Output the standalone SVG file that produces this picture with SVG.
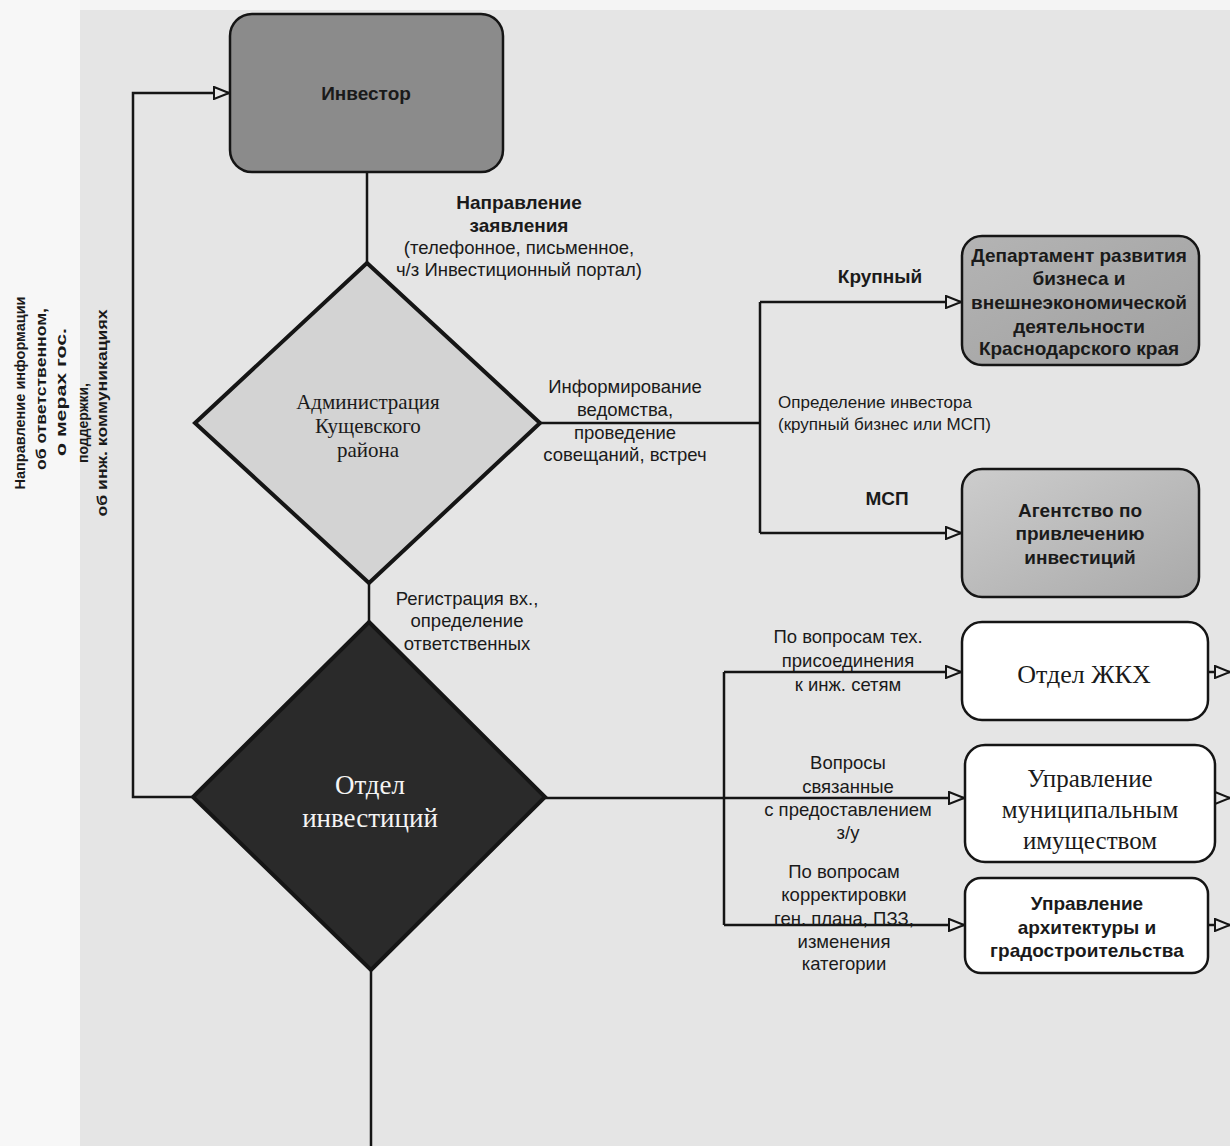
<svg xmlns="http://www.w3.org/2000/svg" width="1230" height="1146" viewBox="0 0 1230 1146">
<style>
.bg{fill:#e5e5e5}
.ln{fill:none;stroke:#151515;stroke-width:2.5}
.box{stroke:#151515;stroke-width:2.5}
.dia{stroke:#151515;stroke-width:4}
.s{font-family:"Liberation Sans",Arial,sans-serif;fill:#1a1a1a;text-anchor:middle}
.b{font-weight:bold}
.r{font-family:"Liberation Serif","Times New Roman",serif;fill:#1a1a1a;text-anchor:middle}
.f18{font-size:18.5px}
.f19{font-size:19px}
.f17{font-size:17px}
</style>
<defs>
<marker id="arr" viewBox="0 0 17 14" markerWidth="17" markerHeight="14" refX="16" refY="7" orient="auto" markerUnits="userSpaceOnUse">
<path d="M1,1 L16,7 L1,13 Z" fill="#e8e8e8" stroke="#151515" stroke-width="2"/>
</marker>
<linearGradient id="gAg" x1="0" y1="0" x2="1" y2="1">
<stop offset="0" stop-color="#cdcdcd"/>
<stop offset="1" stop-color="#a9a9a9"/>
</linearGradient>
<linearGradient id="gDep" x1="0" y1="0" x2="1" y2="1">
<stop offset="0" stop-color="#b4b4b4"/>
<stop offset="1" stop-color="#a0a0a0"/>
</linearGradient>
</defs>
<rect class="bg" x="0" y="0" width="1230" height="1146"/>
<rect x="0" y="0" width="80" height="1146" fill="#f7f7f7"/>
<rect x="80" y="0" width="1150" height="10" fill="#f4f4f4"/>

<g id="connectors">
<path class="ln" d="M367,172 V263"/>
<path class="ln" d="M369,583 V622"/>
<path class="ln" d="M371,970 V1146"/>
<path class="ln" d="M193,797 H133 V93 H229" marker-end="url(#arr)"/>
<path class="ln" d="M540,423 H760"/>
<path class="ln" d="M760,302 V533"/>
<path class="ln" d="M760,302 H961" marker-end="url(#arr)"/>
<path class="ln" d="M760,533 H961" marker-end="url(#arr)"/>
<path class="ln" d="M545,798 H964" marker-end="url(#arr)"/>
<path class="ln" d="M724,672 V925"/>
<path class="ln" d="M724,672 H961" marker-end="url(#arr)"/>
<path class="ln" d="M724,925 H964" marker-end="url(#arr)"/>
<path class="ln" d="M1208,672 H1230" marker-end="url(#arr)"/>
<path class="ln" d="M1215,798 H1230" marker-end="url(#arr)"/>
<path class="ln" d="M1208,925 H1230" marker-end="url(#arr)"/>
</g>

<g id="labels">
<text class="s b f19" x="519" y="202" dy=".35em">Направление</text>
<text class="s b f19" x="519" y="225" dy=".35em">заявления</text>
<text class="s f18" x="519" y="248" dy=".35em">(телефонное, письменное,</text>
<text class="s f18" x="519" y="270" dy=".35em">ч/з Инвестиционный портал)</text>
<text class="s f18" x="625" y="387" dy=".35em">Информирование</text>
<text class="s f18" x="625" y="410" dy=".35em">ведомства,</text>
<text class="s f18" x="625" y="433" dy=".35em">проведение</text>
<text class="s f18" x="625" y="455" dy=".35em">совещаний, встреч</text>
<text class="s b f19" x="880" y="276" dy=".35em">Крупный</text>
<text class="s b f19" x="887" y="498" dy=".35em">МСП</text>
<text class="s f17" x="778" y="402" dy=".35em" style="text-anchor:start">Определение инвестора</text>
<text class="s f17" x="778" y="424" dy=".35em" style="text-anchor:start">(крупный бизнес или МСП)</text>
<text class="s f18" x="467" y="599" dy=".35em">Регистрация вх.,</text>
<text class="s f18" x="467" y="621" dy=".35em">определение</text>
<text class="s f18" x="467" y="644" dy=".35em">ответственных</text>
<text class="s f18" x="848" y="637" dy=".35em">По вопросам тех.</text>
<text class="s f18" x="848" y="661" dy=".35em">присоединения</text>
<text class="s f18" x="848" y="685" dy=".35em">к инж. сетям</text>
<text class="s f18" x="848" y="763" dy=".35em">Вопросы</text>
<text class="s f18" x="848" y="787" dy=".35em">связанные</text>
<text class="s f18" x="848" y="810" dy=".35em">с предоставлением</text>
<text class="s f18" x="848" y="833" dy=".35em">з/у</text>
<text class="s f18" x="844" y="872" dy=".35em">По вопросам</text>
<text class="s f18" x="844" y="895" dy=".35em">корректировки</text>
<text class="s f18" x="844" y="919" dy=".35em">ген. плана, ПЗЗ,</text>
<text class="s f18" x="844" y="942" dy=".35em">изменения</text>
<text class="s f18" x="844" y="964" dy=".35em">категории</text>
</g>

<g id="side-note" font-family="'Liberation Sans',Arial,sans-serif" font-weight="bold" font-size="14.5" fill="#1a1a1a" text-anchor="middle">
<text transform="translate(20,393) rotate(-90)" dy=".35em" textLength="193" lengthAdjust="spacingAndGlyphs">Направление информации</text>
<text transform="translate(41,389) rotate(-90)" dy=".35em" textLength="162" lengthAdjust="spacingAndGlyphs">об ответственном,</text>
<text transform="translate(61,392) rotate(-90)" dy=".35em" textLength="128" lengthAdjust="spacingAndGlyphs">о мерах гос.</text>
<text transform="translate(83,423) rotate(-90)" dy=".35em" textLength="80" lengthAdjust="spacingAndGlyphs">поддержки,</text>
<text transform="translate(102,413) rotate(-90)" dy=".35em" textLength="207" lengthAdjust="spacingAndGlyphs">об инж. коммуникациях</text>
</g>

<g id="investor">
<rect class="box" x="230" y="14" width="273" height="158" rx="22" fill="#8b8b8b"/>
<text class="s b f19" x="366" y="93" dy=".35em">Инвестор</text>
</g>

<g id="admin">
<polygon class="dia" points="367,263 540,423 369,583 195,423" fill="#d3d3d3"/>
<text class="r" font-size="21" x="368" y="402" dy=".35em">Администрация</text>
<text class="r" font-size="21" x="368" y="426" dy=".35em">Кущевского</text>
<text class="r" font-size="21" x="368" y="450" dy=".35em">района</text>
</g>

<g id="otdel-invest">
<polygon class="dia" points="369,622 545,797 371,970 193,797" fill="#2a2a2a" stroke-width="2"/>
<text class="r" font-size="27" x="370" y="785" dy=".35em" style="fill:#f4f4f4">Отдел</text>
<text class="r" font-size="27" x="370" y="818" dy=".35em" style="fill:#f4f4f4">инвестиций</text>
</g>

<g id="department">
<rect class="box" x="962" y="236" width="237" height="129" rx="20" fill="url(#gDep)"/>
<text class="s b f19" x="1079" y="255" dy=".35em">Департамент развития</text>
<text class="s b f19" x="1079" y="278" dy=".35em">бизнеса и</text>
<text class="s b f19" x="1079" y="302" dy=".35em">внешнеэкономической</text>
<text class="s b f19" x="1079" y="326" dy=".35em">деятельности</text>
<text class="s b f19" x="1079" y="348" dy=".35em">Краснодарского края</text>
</g>

<g id="agency">
<rect class="box" x="962" y="469" width="237" height="128" rx="20" fill="url(#gAg)"/>
<text class="s b f19" x="1080" y="510" dy=".35em">Агентство по</text>
<text class="s b f19" x="1080" y="533" dy=".35em">привлечению</text>
<text class="s b f19" x="1080" y="557" dy=".35em">инвестиций</text>
</g>

<g id="zhkh">
<rect class="box" x="962" y="622" width="246" height="98" rx="20" fill="#ffffff"/>
<text class="r" font-size="26" x="1084" y="674" dy=".35em">Отдел ЖКХ</text>
</g>

<g id="mun-property">
<rect class="box" x="965" y="745" width="250" height="117" rx="20" fill="#ffffff"/>
<text class="r" font-size="25" x="1090" y="778" dy=".35em">Управление</text>
<text class="r" font-size="25" x="1090" y="809" dy=".35em">муниципальным</text>
<text class="r" font-size="25" x="1090" y="840" dy=".35em">имуществом</text>
</g>

<g id="architecture">
<rect class="box" x="965" y="878" width="243" height="95" rx="16" fill="#ffffff"/>
<text class="s b f19" x="1087" y="903" dy=".35em">Управление</text>
<text class="s b f19" x="1087" y="927" dy=".35em">архитектуры и</text>
<text class="s b f19" x="1087" y="950" dy=".35em">градостроительства</text>
</g>
</svg>
